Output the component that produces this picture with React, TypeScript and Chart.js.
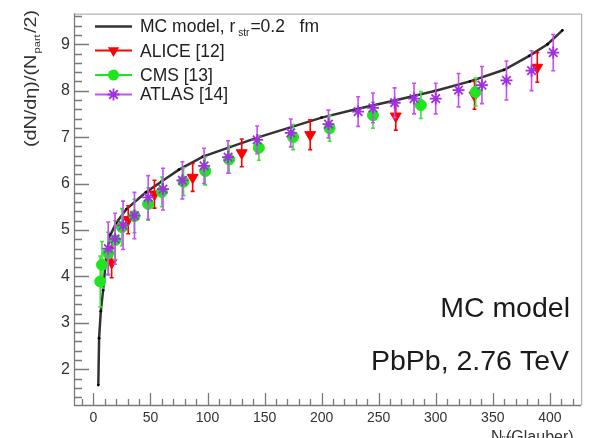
import React, { useEffect, useRef } from "react";
import { Chart, registerables } from "chart.js";

Chart.register(...registerables);

// ---- data ----
const MC_X = [4.3, 5, 6.5, 8.5, 11.5, 15, 20, 29, 46, 60, 75, 96, 119, 145, 174, 200, 230, 264, 300, 330, 360, 382, 398, 411];
const MC_Y = [1.66, 2.67, 3.25, 3.7, 4.5, 4.9, 5.15, 5.45, 5.81, 6.05, 6.3, 6.58, 6.78, 7.0, 7.22, 7.42, 7.6, 7.79, 8.0, 8.2, 8.45, 8.75, 9.0, 9.3];

const ALICE_X = [16, 30.5, 53.5, 87, 130, 190, 265, 334, 389];
const ALICE_Y = [4.3, 5.22, 5.77, 6.13, 6.66, 7.05, 7.45, 7.9, 8.5];
const ALICE_ERR = [0.33, 0.3, 0.3, 0.3, 0.3, 0.32, 0.3, 0.3, 0.32];

const CMS_X = [6, 7.5, 13, 19, 25, 36, 48, 60, 79, 98, 119, 145, 175, 207, 245, 287, 335];
const CMS_Y = [3.89, 4.25, 4.5, 4.78, 5.06, 5.3, 5.56, 5.82, 6.04, 6.27, 6.52, 6.77, 7.0, 7.19, 7.47, 7.69, 7.97];
const CMS_ERR = [0.55, 0.5, 0.45, 0.42, 0.4, 0.36, 0.35, 0.32, 0.3, 0.3, 0.3, 0.27, 0.27, 0.28, 0.28, 0.29, 0.3];

const ATLAS_X = [13, 19, 26, 36, 48, 61, 78, 97, 118, 143.5, 173, 206, 232, 245, 264, 281, 300, 320, 340.5, 362, 384, 403];
const ATLAS_Y = [4.6, 4.81, 5.1, 5.31, 5.7, 5.88, 6.07, 6.38, 6.57, 6.94, 7.09, 7.28, 7.55, 7.63, 7.74, 7.83, 7.83, 8.01, 8.12, 8.22, 8.43, 8.82];
const ATLAS_ERR = [0.57, 0.55, 0.52, 0.5, 0.47, 0.45, 0.4, 0.38, 0.35, 0.3, 0.3, 0.3, 0.32, 0.32, 0.32, 0.33, 0.33, 0.36, 0.4, 0.42, 0.43, 0.39];

const X_TICKS = [0, 50, 100, 150, 200, 250, 300, 350, 400];
const Y_TICKS = [2, 3, 4, 5, 6, 7, 8, 9];
const X_MIN = -17;
const X_MAX = 427.5;
const Y_MIN = 1.23;
const Y_MAX = 9.66;
const X_MINOR = 10;
const Y_MINOR = 0.2;

const FONT = "'Liberation Sans', Arial, Helvetica, sans-serif";

const RED = "#ff0000";
const GREEN = "#1ee61e";
const GREEN_BAR = "#3ee03e";
const PURPLE = "#a030e0";
const PURPLE_BAR = "#cc4cf8";

function toPoints(xs: number[], ys: number[]) {
  return xs.map((x, i) => ({ x, y: ys[i] }));
}

function drawTriDown(ctx: CanvasRenderingContext2D, x: number, y: number, r: number, color: string) {
  ctx.beginPath();
  ctx.moveTo(x, y + r);
  ctx.lineTo(x - r * 0.866, y - r * 0.5);
  ctx.lineTo(x + r * 0.866, y - r * 0.5);
  ctx.closePath();
  ctx.fillStyle = color;
  ctx.fill();
}
function drawCircle(ctx: CanvasRenderingContext2D, x: number, y: number, r: number, color: string) {
  ctx.beginPath();
  ctx.arc(x, y, r, 0, Math.PI * 2);
  ctx.fillStyle = color;
  ctx.fill();
}
function drawStar(ctx: CanvasRenderingContext2D, x: number, y: number, r: number, color: string) {
  ctx.beginPath();
  for (let k = 0; k < 4; k++) {
    const a = (k * Math.PI) / 4;
    ctx.moveTo(x - Math.cos(a) * r, y - Math.sin(a) * r);
    ctx.lineTo(x + Math.cos(a) * r, y + Math.sin(a) * r);
  }
  ctx.strokeStyle = color;
  ctx.lineWidth = 1.8;
  ctx.stroke();
}

const errorBarPlugin = {
  id: "errorBars",
  beforeDatasetDraw(chart: any, args: any) {
    const ds = chart.data.datasets[args.index];
    if (!ds.errors) return;
    const meta = chart.getDatasetMeta(args.index);
    const ys = chart.scales.y;
    const ctx = chart.ctx as CanvasRenderingContext2D;
    ctx.save();
    ctx.strokeStyle = ds.errorColor;
    ctx.lineWidth = 1.6;
    meta.data.forEach((pt: any, i: number) => {
      const d = ds.data[i];
      const yt = ys.getPixelForValue(d.y + ds.errors[i]);
      const yb = ys.getPixelForValue(d.y - ds.errors[i]);
      ctx.beginPath();
      ctx.moveTo(pt.x, yt);
      ctx.lineTo(pt.x, yb);
      ctx.moveTo(pt.x - 2, yt);
      ctx.lineTo(pt.x + 2, yt);
      ctx.moveTo(pt.x - 2, yb);
      ctx.lineTo(pt.x + 2, yb);
      ctx.stroke();
    });
    ctx.restore();
  },
};

const framePlugin = {
  id: "frameDecor",
  afterDraw(chart: any) {
    const ctx = chart.ctx as CanvasRenderingContext2D;
    const { left, right, top, bottom } = chart.chartArea;
    const xs = chart.scales.x;
    const ys = chart.scales.y;
    ctx.save();
    // frame
    ctx.strokeStyle = "#a0a0a0";
    ctx.lineWidth = 1;
    ctx.beginPath();
    ctx.moveTo(left, top + 0.5);
    ctx.lineTo(right + 0.5, top + 0.5);
    ctx.lineTo(right + 0.5, bottom);
    ctx.stroke();
    ctx.strokeStyle = "#7a7a7a";
    ctx.lineWidth = 1.3;
    ctx.beginPath();
    ctx.moveTo(left + 0.5, top);
    ctx.lineTo(left + 0.5, bottom + 0.5);
    ctx.lineTo(right, bottom + 0.5);
    ctx.stroke();
    // x ticks (inward)
    ctx.beginPath();
    for (let v = Math.ceil(X_MIN / X_MINOR) * X_MINOR; v <= X_MAX; v += X_MINOR) {
      const px = Math.round(xs.getPixelForValue(v)) + 0.5;
      const major = Math.abs(v % 50) < 1e-6;
      ctx.moveTo(px, bottom);
      ctx.lineTo(px, bottom - (major ? 12 : 6));
    }
    // y ticks (inward)
    for (let k = Math.ceil(Y_MIN / Y_MINOR); k * Y_MINOR <= Y_MAX; k++) {
      const v = k * Y_MINOR;
      const py = Math.round(ys.getPixelForValue(v)) + 0.5;
      const major = k % 5 === 0;
      ctx.moveTo(left, py);
      ctx.lineTo(left + (major ? 15 : 8), py);
    }
    ctx.stroke();

    // legend
    const lx0 = 95, lx1 = 132, lxm = 113.5, tx = 140;
    const LF = `17.5px ${FONT}`;
    ctx.font = LF;
    ctx.textBaseline = "alphabetic";
    ctx.textAlign = "left";
    // MC row
    ctx.strokeStyle = "#333";
    ctx.lineWidth = 2.5;
    ctx.beginPath();
    ctx.moveTo(lx0, 26.5);
    ctx.lineTo(lx1, 26.5);
    ctx.stroke();
    ctx.fillStyle = "#222";
    const t = "MC model, r";
    ctx.fillText(t, tx, 32);
    const w = ctx.measureText(t).width;
    ctx.font = `10px ${FONT}`;
    ctx.fillText("str", tx + w + 3, 36);
    const ws = ctx.measureText("str").width;
    ctx.font = LF;
    ctx.fillText("=0.2   fm", tx + w + 3 + ws + 1, 32);
    // ALICE
    ctx.strokeStyle = RED;
    ctx.lineWidth = 2;
    ctx.beginPath();
    ctx.moveTo(lx0, 50.5);
    ctx.lineTo(lx1, 50.5);
    ctx.stroke();
    drawTriDown(ctx, lxm, 50.5, 6.5, RED);
    ctx.fillStyle = "#222";
    ctx.fillText("ALICE [12]", tx, 56.5);
    // CMS
    ctx.strokeStyle = GREEN;
    ctx.beginPath();
    ctx.moveTo(lx0, 75);
    ctx.lineTo(lx1, 75);
    ctx.stroke();
    drawCircle(ctx, lxm, 75, 5.5, GREEN);
    ctx.fillStyle = "#222";
    ctx.fillText("CMS [13]", tx, 80.5);
    // ATLAS
    ctx.strokeStyle = PURPLE_BAR;
    ctx.beginPath();
    ctx.moveTo(lx0, 94.5);
    ctx.lineTo(lx1, 94.5);
    ctx.stroke();
    drawStar(ctx, lxm, 94.5, 6, PURPLE);
    ctx.fillStyle = "#222";
    ctx.fillText("ATLAS [14]", tx, 100);

    // big annotations
    ctx.font = `28.5px ${FONT}`;
    ctx.textAlign = "right";
    ctx.fillStyle = "#1a1a1a";
    ctx.fillText("MC model", 570, 317);
    ctx.fillText("PbPb, 2.76 TeV", 569, 370);

    // x title
    ctx.textAlign = "left";
    ctx.fillStyle = "#333";
    ctx.font = `16px ${FONT}`;
    ctx.fillText("N", 491, 442);
    const wn = ctx.measureText("N").width;
    ctx.font = `7px ${FONT}`;
    ctx.fillText("part", 491 + wn - 1, 440);
    ctx.font = `16px ${FONT}`;
    ctx.fillText("(Glauber)", 506, 442);

    // y title (rotated)
    ctx.save();
    ctx.translate(36, 10);
    ctx.rotate(-Math.PI / 2);
    ctx.font = `16px ${FONT}`;
    const p1 = "(dN/d\u03b7)/(N";
    const p3 = "/2)";
    const w1 = ctx.measureText(p1).width;
    const w3 = ctx.measureText(p3).width;
    ctx.font = `9px ${FONT}`;
    const w2 = ctx.measureText("part").width;
    const total = w1 + w2 + w3 + 2;
    const sx = 137 / total;
    ctx.scale(sx, 1);
    ctx.fillStyle = "#333";
    ctx.textAlign = "left";
    let cx = -total;
    ctx.font = `16px ${FONT}`;
    ctx.fillText(p1, cx, 0);
    cx += w1 + 1;
    ctx.font = `9px ${FONT}`;
    ctx.fillText("part", cx, 4);
    cx += w2 + 1;
    ctx.font = `16px ${FONT}`;
    ctx.fillText(p3, cx, 0);
    ctx.restore();

    ctx.restore();
  },
};

export default function App() {
  const ref = useRef<HTMLCanvasElement | null>(null);
  useEffect(() => {
    const canvas = ref.current;
    if (!canvas) return;
    const chart = new Chart(canvas, {
      type: "scatter",
      data: {
        datasets: [
          {
            label: "MC model",
            data: toPoints(MC_X, MC_Y),
            showLine: true,
            borderColor: "#333333",
            borderWidth: 2.5,
            pointRadius: 1.4,
            pointBackgroundColor: "#000",
            pointBorderWidth: 0,
            tension: 0,
            order: 4,
          } as any,
          {
            label: "ALICE [12]",
            data: toPoints(ALICE_X, ALICE_Y),
            errors: ALICE_ERR,
            errorColor: RED,
            pointStyle: "triangle",
            rotation: 180,
            pointRadius: 6.3,
            backgroundColor: RED,
            borderColor: RED,
            borderWidth: 1,
            order: 3,
          } as any,
          {
            label: "CMS [13]",
            data: toPoints(CMS_X, CMS_Y),
            errors: CMS_ERR,
            errorColor: GREEN_BAR,
            pointStyle: "circle",
            pointRadius: 5.5,
            backgroundColor: GREEN,
            borderColor: GREEN,
            borderWidth: 1,
            order: 2,
          } as any,
          {
            label: "ATLAS [14]",
            data: toPoints(ATLAS_X, ATLAS_Y),
            errors: ATLAS_ERR,
            errorColor: PURPLE_BAR,
            pointStyle: "star",
            pointRadius: 6,
            backgroundColor: PURPLE,
            borderColor: PURPLE,
            borderWidth: 1.8,
            order: 1,
          } as any,
        ],
      },
      options: {
        animation: false,
        responsive: false,
        devicePixelRatio: 1,
        layout: { padding: { top: 9, right: 4, left: 0, bottom: 0 } },
        plugins: { legend: { display: false }, tooltip: { enabled: false } },
        events: [],
        scales: {
          x: {
            type: "linear",
            min: X_MIN,
            max: X_MAX,
            grid: { display: false, drawTicks: false },
            border: { display: false },
            ticks: {
              font: { family: FONT, size: 14 },
              color: "#333",
              padding: 5,
              maxRotation: 0,
              autoSkip: false,
            },
            afterBuildTicks: (s: any) => {
              s.ticks = X_TICKS.map((v) => ({ value: v }));
            },
            afterFit: (s: any) => {
              s.height = 33;
            },
          },
          y: {
            type: "linear",
            min: Y_MIN,
            max: Y_MAX,
            grid: { display: false, drawTicks: false },
            border: { display: false },
            ticks: {
              font: { family: FONT, size: 16 },
              color: "#333",
              padding: 4,
              autoSkip: false,
            },
            afterBuildTicks: (s: any) => {
              s.ticks = Y_TICKS.map((v) => ({ value: v }));
            },
            afterFit: (s: any) => {
              s.width = 74;
            },
          },
        },
      },
      plugins: [errorBarPlugin, framePlugin],
    });
    return () => chart.destroy();
  }, []);
  return (
    <div style={{ position: "fixed", left: 0, top: 0, width: 589, height: 438, background: "#fff" }}>
      <canvas ref={ref} width={589} height={438} style={{ display: "block" }} />
    </div>
  );
}
